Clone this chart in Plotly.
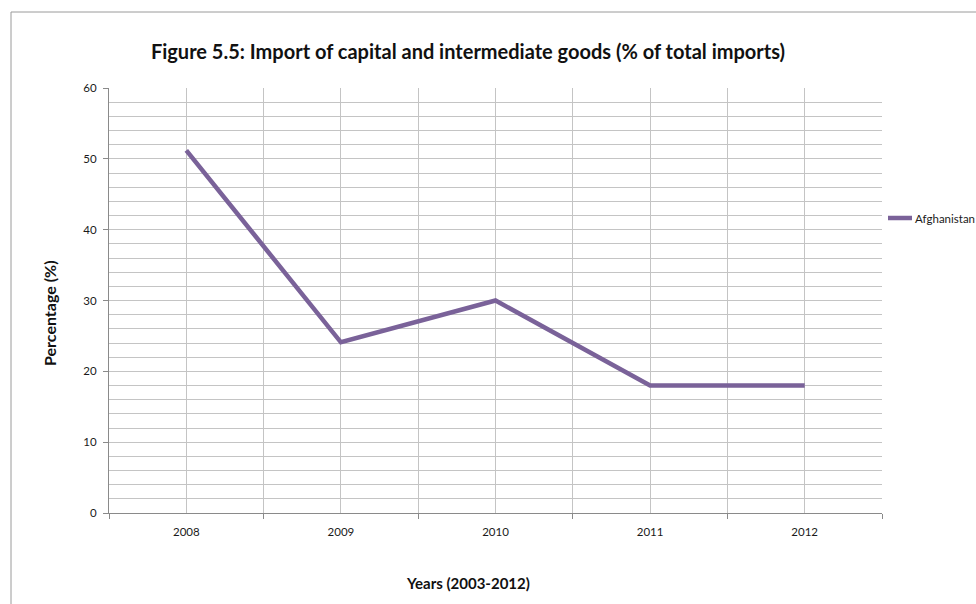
import plotly.graph_objects as go

# Share of capital and intermediate goods in total imports, Afghanistan
years = ["2008", "2009", "2010", "2011", "2012"]
afghanistan = [51.2, 24.1, 30.0, 18.0, 18.0]
series_name = "Afghanistan"
y_ticks = [0, 10, 20, 30, 40, 50, 60]

title_text = "Figure 5.5: Import of capital and intermediate goods (% of total imports)"
x_title = "Years (2003-2012)"
y_title = "Percentage (%)"

W, H = 976, 604
L, R, T, B = 109, 94, 88, 91
pw, ph = W - L - R, H - T - B

def px_x(x):
    return (x - L) / pw

def px_y(y):
    return (H - B - y) / ph

line_color = "#7a6299"
grid_color = "#c4c4c4"
axis_color = "#8a8a8a"
font_family = "Lato, 'Open Sans', sans-serif"

xs = list(range(len(years)))

fig = go.Figure()
fig.add_trace(go.Scatter(
    x=xs, y=afghanistan, mode="lines", name=series_name,
    line=dict(color=line_color, width=4.5),
    showlegend=False,
))

fig.update_layout(
    width=W, height=H,
    margin=dict(l=L, r=R, t=T, b=B, autoexpand=False),
    paper_bgcolor="white", plot_bgcolor="white",
    font=dict(family=font_family, size=11, color="#222222"),
    title=dict(text=title_text, xref="container", yref="container",
               x=468 / W, y=1 - 52 / H, xanchor="center", yanchor="middle",
               font=dict(family=font_family, size=20, color="#111111", weight="bold")),
    xaxis=dict(
        range=[-0.5, len(years) - 0.5],
        tickmode="array", tickvals=xs, ticktext=years,
        ticks="", showgrid=True, gridcolor=grid_color, gridwidth=1,
        showline=True, linecolor=axis_color, linewidth=1,
        zeroline=False,
        minor=dict(tickmode="array",
                   tickvals=[i - 0.5 for i in range(len(years) + 1)],
                   ticks="outside", ticklen=5, tickcolor=axis_color,
                   showgrid=True, gridcolor=grid_color, gridwidth=1),
        tickfont=dict(size=11.5, color="#1a1a1a"),
        ticklabelstandoff=8,
        fixedrange=True,
    ),
    yaxis=dict(
        range=[0, 60],
        tickmode="array", tickvals=y_ticks,
        ticks="outside", ticklen=5, tickcolor=axis_color,
        showgrid=True, gridcolor=grid_color, gridwidth=1,
        showline=True, linecolor=axis_color, linewidth=1,
        zeroline=False,
        minor=dict(dtick=2, tick0=0, showgrid=True, gridcolor=grid_color,
                   gridwidth=1, ticks=""),
        tickfont=dict(size=11.5, color="#1a1a1a"),
        ticklabelstandoff=4,
        fixedrange=True,
    ),
    showlegend=False,
)

# chart area frame
fig.add_shape(type="line", xref="paper", yref="paper",
              x0=px_x(11), y0=px_y(12), x1=px_x(W + 5), y1=px_y(12),
              line=dict(color="#9a9a9a", width=1))
fig.add_shape(type="line", xref="paper", yref="paper",
              x0=px_x(11), y0=px_y(12), x1=px_x(11), y1=px_y(H + 5),
              line=dict(color="#9a9a9a", width=1))

# legend entry
fig.add_shape(type="line", xref="paper", yref="paper",
              x0=px_x(888), y0=px_y(218), x1=px_x(912), y1=px_y(218),
              line=dict(color=line_color, width=4.5))
fig.add_annotation(text=series_name, xref="paper", yref="paper",
                   x=px_x(913), y=px_y(218), xanchor="left", yanchor="middle",
                   showarrow=False, font=dict(size=11.5, color="#1a1a1a"))

# axis titles
fig.add_annotation(text="<b>" + x_title + "</b>", xref="paper", yref="paper",
                   x=px_x(468), y=px_y(583), xanchor="center", yanchor="middle",
                   showarrow=False, font=dict(size=15, color="#111111"))
fig.add_annotation(text="<b>" + y_title + "</b>", xref="paper", yref="paper",
                   x=px_x(49), y=px_y(313), xanchor="center", yanchor="middle",
                   textangle=-90, showarrow=False,
                   font=dict(size=16, color="#111111"))

fig.write_html("out.html", config={"displayModeBar": False})
